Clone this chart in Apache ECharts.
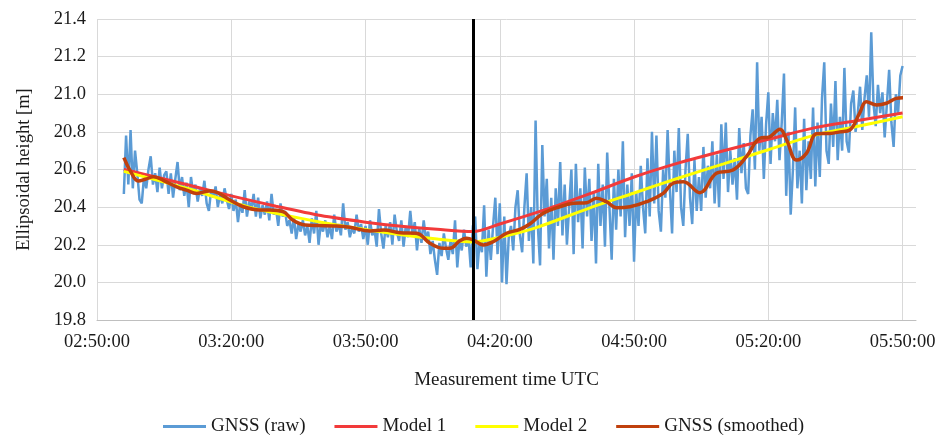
<!DOCTYPE html>
<html>
<head>
<meta charset="utf-8">
<script src="https://cdn.jsdelivr.net/npm/echarts@6/dist/echarts.min.js"></script>
<style>
  html, body { margin: 0; padding: 0; background: #fff; }
  #chart { width: 937px; height: 436px; }
</style>
</head>
<body>
<div id="chart"></div>
<script>
// time is in minutes after 02:50:00
const splitTime = 84 // black vertical line, ~04:14

// GNSS raw, one value every rawStep minutes from rawStart
const rawStart = 6
const rawStep = 0.5
const rawVals = [
  20.47, 20.78, 20.52, 20.81, 20.50, 20.70, 20.58, 20.44,
  20.42, 20.56, 20.50, 20.60, 20.67, 20.52, 20.58, 20.48, 20.61, 20.50, 20.57, 20.59,
  20.47, 20.58, 20.45, 20.55, 20.64, 20.49, 20.56, 20.46,
  20.53, 20.40, 20.56, 20.47, 20.52, 20.43, 20.50, 20.46, 20.54, 20.42, 20.38, 20.49,
  20.45, 20.51, 20.40, 20.47, 20.42, 20.50, 20.44, 20.39,
  20.47, 20.38, 20.44, 20.32, 20.42, 20.37, 20.49, 20.35, 20.43, 20.39, 20.47, 20.35,
  20.45, 20.34, 20.41, 20.36, 20.43, 20.33, 20.47, 20.36,
  20.39, 20.30, 20.42, 20.35, 20.38, 20.30, 20.33, 20.26, 20.35, 20.23, 20.31, 20.27,
  20.33, 20.25, 20.30, 20.21, 20.34, 20.26, 20.38, 20.20,
  20.31, 20.27, 20.33, 20.24, 20.30, 20.23, 20.36, 20.27, 20.31, 20.25, 20.42, 20.28,
  20.32, 20.24, 20.29, 20.26, 20.36, 20.27, 20.31, 20.23,
  20.30, 20.20, 20.33, 20.25, 20.28, 20.19, 20.39, 20.26, 20.18, 20.30, 20.24, 20.32,
  20.20, 20.36, 20.27, 20.22, 20.33, 20.19, 20.30, 20.24,
  20.38, 20.25, 20.32, 20.17, 20.29, 20.21, 20.33, 20.23, 20.27, 20.15, 20.22, 20.12,
  20.04, 20.21, 20.14, 20.26, 20.18, 20.12, 20.22, 20.15,
  20.33, 20.08, 20.23, 20.17, 20.28, 20.19, 20.24, 20.08, 20.30, 20.35, 20.07, 20.22,
  20.16, 20.41, 20.03, 20.28, 20.12, 20.30, 20.45, 20.15,
  20.42, 20.00, 20.35, 19.99, 20.24, 20.30, 20.17, 20.40, 20.49, 20.25, 20.16, 20.40,
  20.58, 20.22, 20.40, 20.10, 20.86, 20.30, 20.09, 20.73,
  20.35, 20.55, 20.18, 20.45, 20.12, 20.50, 20.30, 20.64, 20.25, 20.52, 20.20, 20.40,
  20.60, 20.15, 20.63, 20.32, 20.50, 20.18, 20.61, 20.35,
  20.55, 20.22, 20.48, 20.10, 20.63, 20.30, 20.52, 20.19, 20.69, 20.40, 20.12, 20.55,
  20.28, 20.60, 20.35, 20.75, 20.24, 20.52, 20.30, 20.58,
  20.11, 20.48, 20.30, 20.62, 20.40, 20.26, 20.66, 20.35, 20.80, 20.42, 20.78, 20.38,
  20.27, 20.60, 20.45, 20.81, 20.50, 20.26, 20.70, 20.48,
  20.82, 20.40, 20.30, 20.60, 20.79, 20.45, 20.31, 20.65, 20.38, 20.56, 20.38, 20.72,
  20.45, 20.62, 20.50, 20.75, 20.42, 20.68, 20.40, 20.84,
  20.55, 20.85, 20.48, 20.70, 20.52, 20.66, 20.44, 20.82, 20.58, 20.74, 20.50, 20.47,
  20.78, 20.92, 20.60, 21.17, 20.70, 20.88, 20.55, 20.84,
  21.01, 20.63, 20.90, 20.75, 20.97, 20.65, 20.85, 21.11, 20.46, 20.80, 20.36, 20.60,
  20.93, 20.50, 20.70, 20.42, 20.87, 20.49, 20.75, 20.55,
  20.93, 20.51, 20.85, 20.56, 20.98, 21.17, 20.70, 20.63, 20.95, 20.72, 21.07, 20.65,
  20.88, 20.70, 21.14, 20.75, 20.69, 20.95, 21.02, 20.80,
  20.90, 21.04, 20.81, 20.98, 21.10, 20.88, 21.33, 20.95, 20.83, 21.05, 20.90, 21.01,
  20.77, 20.95, 21.13, 20.85, 20.72, 21.00, 20.90, 21.10,
  21.15
]

const model1Times = [6, 10, 20, 30, 40, 50, 60, 68, 76, 84, 90, 100, 110, 120, 130, 140, 150, 160, 170, 180]
const model1Vals = [20.60, 20.578, 20.52, 20.46, 20.405, 20.355, 20.32, 20.298, 20.282, 20.27,
  20.31, 20.385, 20.47, 20.56, 20.635, 20.70, 20.76, 20.82, 20.86, 20.90]

const model2Times = [6, 20, 34, 50, 66, 76, 84, 90, 98, 110, 120, 130, 140, 150, 160, 170, 180]
const model2Vals = [20.59, 20.50, 20.40, 20.32, 20.26, 20.23, 20.215, 20.24, 20.29,
  20.395, 20.475, 20.555, 20.63, 20.705, 20.78, 20.83, 20.88]

const smoothTimes = [6, 7.5, 9.2, 10.8, 12.6, 15, 17.8, 20, 22.3, 25.2, 26.7, 29.7, 32.7, 36.4, 38.6,
  41.6, 43.8, 46.5, 49.5, 52.8, 56.5, 61, 64, 67.7, 71.4, 74.4, 77.4, 78.8, 81.1, 82.6,
  84.1, 86.3, 88.5, 91.5, 94.5, 96.7, 99.7, 103.4, 106.4, 109.4, 111.6, 113.8, 116.1, 119.1, 122.8,
  126.5, 128.7, 131, 134.7, 138.4, 142.1, 145.1, 148.1, 150.3, 152.6, 154.1, 156.3, 158.5, 160.8, 163.7,
  166, 168.2, 170.4, 171.9, 174.2, 176.4, 178.6, 180.1]
const smoothVals = [20.663, 20.59, 20.539, 20.548, 20.562, 20.54, 20.508, 20.49, 20.473, 20.486,
  20.479, 20.438, 20.402, 20.385, 20.385, 20.376, 20.33, 20.305, 20.302, 20.30,
  20.293, 20.273, 20.278, 20.264, 20.261, 20.208, 20.181, 20.181, 20.221, 20.234,
  20.225, 20.199, 20.216, 20.261, 20.282, 20.31, 20.367, 20.402, 20.42, 20.423,
  20.447, 20.429, 20.397, 20.402, 20.429, 20.473, 20.527, 20.535, 20.477, 20.58,
  20.597, 20.668, 20.766, 20.774, 20.814, 20.757, 20.65, 20.686, 20.79, 20.792,
  20.80, 20.81, 20.90, 20.96, 20.943, 20.952, 20.978, 20.982]

const seriesNames = ['GNSS (raw)', 'Model 1', 'Model 2', 'GNSS (smoothed)']
const xTickLabels = ['02:50:00', '03:20:00', '03:50:00', '04:20:00', '04:50:00', '05:20:00', '05:50:00']

const zip = (ts, vs) => ts.map((t, i) => [t, vs[i]])
const rawData = rawVals.map((v, i) => [rawStart + i * rawStep, v])

const fontFamily = '"Liberation Serif", "DejaVu Serif", serif'
const textColor = '#1a1a1a'
const gridColor = '#d9d9d9'

const chart = echarts.init(document.getElementById('chart'))

const option = {
  animation: false,
  backgroundColor: '#ffffff',
  grid: {
    left: 97,
    right: 21,
    top: 19,
    bottom: 116,
    outerBoundsMode: 'none'
  },
  legend: {
    data: seriesNames,
    left: 163,
    top: 417,
    padding: 0,
    icon: 'rect',
    itemWidth: 43,
    itemHeight: 3,
    itemGap: 29,
    textStyle: { fontFamily: fontFamily, fontSize: 19, color: textColor }
  },
  xAxis: {
    type: 'value',
    min: 0,
    max: 183,
    interval: 30,
    name: 'Measurement time UTC',
    nameLocation: 'middle',
    nameGap: 51,
    nameTextStyle: { fontFamily: fontFamily, fontSize: 19, color: textColor },
    axisLine: { show: true, lineStyle: { color: '#bfbfbf', width: 1 } },
    axisTick: { show: false },
    axisLabel: {
      fontFamily: fontFamily,
      fontSize: 18.5,
      color: textColor,
      margin: 13,
      showMaxLabel: false,
      formatter: function (v) {
        const idx = Math.round(v / 30)
        return Math.abs(v - idx * 30) < 0.01 && xTickLabels[idx] ? xTickLabels[idx] : ''
      }
    },
    splitLine: {
      show: true,
      lineStyle: {
        color: [gridColor, gridColor, gridColor, gridColor, gridColor, gridColor, gridColor, 'rgba(0,0,0,0)'],
        width: 1
      }
    }
  },
  yAxis: {
    type: 'value',
    min: 19.8,
    max: 21.4,
    interval: 0.2,
    name: 'Ellipsoidal height [m]',
    nameLocation: 'middle',
    nameGap: 63,
    nameTextStyle: { fontFamily: fontFamily, fontSize: 18.5, color: textColor },
    axisLine: { show: false },
    axisTick: { show: false },
    axisLabel: {
      fontFamily: fontFamily,
      fontSize: 18.5,
      color: textColor,
      margin: 11,
      formatter: v => v.toFixed(1)
    },
    splitLine: { show: true, lineStyle: { color: gridColor, width: 1 } }
  },
  series: [
    {
      name: seriesNames[0],
      type: 'line',
      data: rawData,
      showSymbol: false,
      itemStyle: { color: '#5b9bd5' },
      lineStyle: { color: '#5b9bd5', width: 2.5 },
      z: 2
    },
    {
      name: seriesNames[1],
      type: 'line',
      data: zip(model1Times, model1Vals),
      smooth: 0.3,
      showSymbol: false,
      itemStyle: { color: '#f23a3a' },
      lineStyle: { color: '#f23a3a', width: 3 },
      z: 3
    },
    {
      name: seriesNames[2],
      type: 'line',
      data: zip(model2Times, model2Vals),
      smooth: 0.3,
      showSymbol: false,
      itemStyle: { color: '#ffff00' },
      lineStyle: { color: '#ffff00', width: 3 },
      z: 4
    },
    {
      name: seriesNames[3],
      type: 'line',
      data: zip(smoothTimes, smoothVals),
      smooth: 0.4,
      showSymbol: false,
      itemStyle: { color: '#c0400d' },
      lineStyle: { color: '#c0400d', width: 3.5 },
      z: 5,
      markLine: {
        silent: true,
        symbol: ['none', 'none'],
        label: { show: false },
        lineStyle: { color: '#000000', width: 3, type: 'solid' },
        data: [{ xAxis: splitTime }],
        z: 10
      }
    }
  ]
}

chart.setOption(option)
</script>
</body>
</html>
